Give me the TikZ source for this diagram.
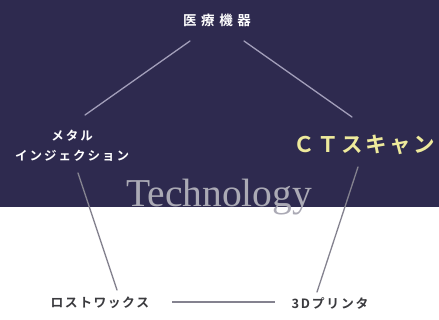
\documentclass[tikz,border=0pt]{standalone}
\usepackage{fontspec}
\newfontfamily\jp{Noto Sans CJK JP}[BoldFont={Noto Sans CJK JP Bold}]
\newfontfamily\serifT{Liberation Serif}
\makeatletter
\newcommand\tracked[2]{\def\tr@k{}\@tfor\tr@x:=#2\do{\tr@k\tr@x\def\tr@k{\kern#1}}}
\makeatother
\definecolor{bgdark}{HTML}{2E2A4F}
\definecolor{lineTop}{HTML}{A29EBA}
\definecolor{lineLow}{HTML}{84828F}
\definecolor{ctyellow}{HTML}{EEEA9C}
\definecolor{techgray}{HTML}{ABAAB5}
\definecolor{bottomtxt}{HTML}{3A3A3E}
\tikzset{
  lbl/.style={inner sep=0pt, font=\jp\bfseries},
  toplbl/.style={lbl, text=white, font=\jp\bfseries\fontsize{13.5}{16}\selectfont},
  sidelbl/.style={lbl, text=white, font=\jp\bfseries\fontsize{12.5}{15}\selectfont},
  botlbl/.style={lbl, text=bottomtxt, font=\jp\bfseries\fontsize{12.8}{15}\selectfont},
  conn/.style={line width=1.3pt, line cap=round},
}
\begin{document}
\begin{tikzpicture}[x=1pt,y=-1pt]
\useasboundingbox (0,0) rectangle (439,320);
\fill[bgdark] (0,0) rectangle (439,207);
% labels
\node[toplbl] (med) at (217,20) {\tracked{4.6pt}{医療機器}};
\node[sidelbl] (metal1) at (72,136) {\tracked{2pt}{メタル}};
\node[sidelbl] (metal2) at (72,156) {\tracked{2pt}{インジェクション}};
\node[lbl, text=ctyellow, font=\jp\bfseries\fontsize{21.5}{24}\selectfont] (ct) at (364,145) {\tracked{2.5pt}{ＣＴスキャン}};
\node[inner sep=0pt, anchor=base west, text=techgray, font=\serifT\fontsize{39.5}{42}\selectfont] (tech) at (126,207) {Technology};
\node[botlbl] (lost) at (100,303) {\tracked{1.5pt}{ロストワックス}};
\node[botlbl] (print) at (330,303) {\tracked{1.8pt}{3Dプリンタ}};
% connector end points
\coordinate (a1) at (190,41);
\coordinate (a2) at (85,115);
\coordinate (b1) at (244,41);
\coordinate (b2) at (352,117);
\coordinate (c1) at (78,173);
\coordinate (c2) at (117,290);
\coordinate (d1) at (358,167);
\coordinate (d2) at (317,292);
\coordinate (e1) at (172,302);
\coordinate (e2) at (275,302);
\draw[conn, lineTop] (a1) -- (a2);
\draw[conn, lineTop] (b1) -- (b2);
\draw[conn, lineLow] (c1) -- (c2);
\draw[conn, lineLow] (d1) -- (d2);
\draw[line width=1.2pt, lineLow] (e1) -- (e2);
\end{tikzpicture}
\end{document}
